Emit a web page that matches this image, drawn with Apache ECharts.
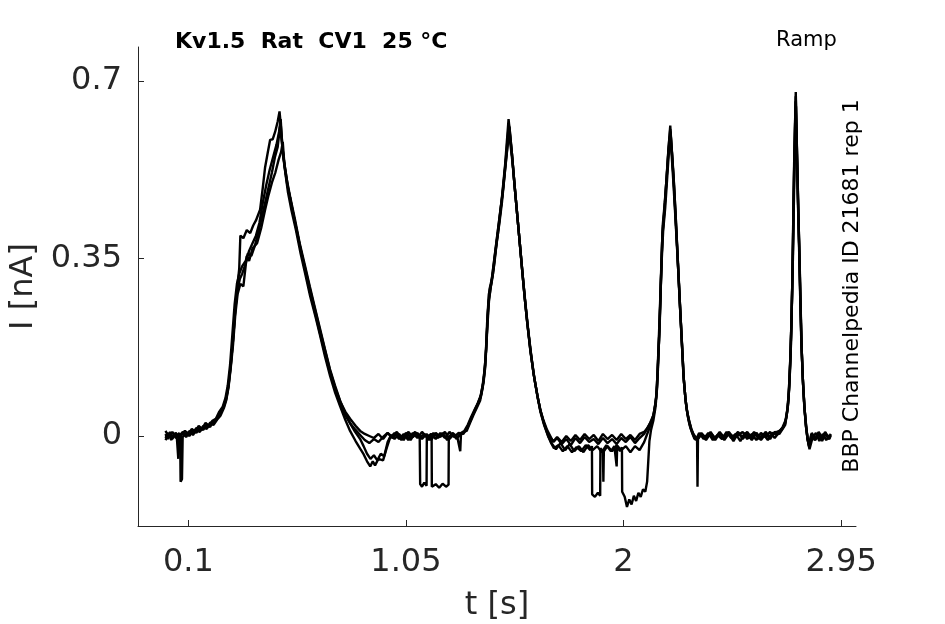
<!DOCTYPE html>
<html>
<head>
<meta charset="utf-8">
<script src="https://cdn.jsdelivr.net/npm/echarts@6/dist/echarts.min.js"></script>
<style>html,body{margin:0;padding:0;background:#fff}#c{width:945px;height:624px}</style>
</head>
<body>
<div id="c"></div>
<script>
const titleText = 'Kv1.5  Rat  CV1  25 °C';
const protocolText = 'Ramp';
const sideText = 'BBP Channelpedia ID 21681 rep 1';
const xTicks = [0.1, 1.05, 2, 2.95];
const yTicks = [0, 0.35, 0.7];
const xName = 't [s]';
const yName = 'I [nA]';

const traceA = [[0.00,0.004],[0.01,-0.006],[0.02,0.008],[0.03,-0.002],[0.045,0.006],[0.055,-0.004],[0.064,0.0],[0.066,-0.09],[0.072,-0.085],[0.075,-0.002],[0.09,0.006],[0.105,0.0],[0.12,0.012],[0.135,0.006],[0.15,0.016],[0.165,0.012],[0.18,0.022],[0.195,0.018],[0.21,0.03],[0.225,0.034],[0.24,0.045],[0.255,0.06],[0.265,0.075],[0.275,0.1],[0.285,0.14],[0.295,0.19],[0.305,0.25],[0.315,0.3],[0.322,0.33],[0.327,0.395],[0.34,0.39],[0.355,0.406],[0.37,0.4],[0.383,0.415],[0.395,0.425],[0.413,0.446],[0.425,0.49],[0.435,0.53],[0.447,0.56],[0.457,0.584],[0.468,0.585],[0.479,0.6],[0.49,0.62],[0.498,0.64],[0.506,0.6],[0.514,0.55],[0.53,0.5],[0.544,0.47],[0.566,0.42],[0.588,0.372],[0.61,0.33],[0.632,0.288],[0.655,0.245],[0.675,0.208],[0.697,0.168],[0.719,0.128],[0.741,0.095],[0.763,0.068],[0.785,0.048],[0.806,0.034],[0.83,0.02],[0.85,0.01],[0.87,0.004],[0.89,0.0],[0.91,-0.004],[0.93,0.004],[0.95,-0.006],[0.97,0.006],[0.99,-0.002],[1.01,0.008],[1.03,-0.004],[1.05,0.002],[1.07,-0.008],[1.09,0.006],[1.11,-0.002],[1.112,-0.095],[1.12,-0.1],[1.13,-0.092],[1.14,-0.098],[1.141,-0.004],[1.16,0.004],[1.18,-0.006],[1.2,0.006],[1.22,-0.004],[1.24,0.008],[1.26,-0.002],[1.28,0.006],[1.3,0.004],[1.315,0.014],[1.33,0.03],[1.345,0.045],[1.36,0.06],[1.374,0.075],[1.385,0.1],[1.396,0.14],[1.403,0.2],[1.41,0.26],[1.425,0.31],[1.436,0.35],[1.447,0.39],[1.458,0.43],[1.469,0.47],[1.483,0.535],[1.498,0.625],[1.512,0.56],[1.523,0.5],[1.534,0.446],[1.545,0.39],[1.556,0.333],[1.567,0.28],[1.578,0.23],[1.592,0.175],[1.607,0.124],[1.622,0.085],[1.636,0.052],[1.651,0.03],[1.666,0.012],[1.68,0.0],[1.694,-0.012],[1.71,-0.004],[1.73,-0.016],[1.75,-0.006],[1.77,-0.018],[1.79,-0.004],[1.81,-0.014],[1.83,-0.002],[1.85,-0.012],[1.87,-0.006],[1.89,-0.016],[1.91,-0.004],[1.93,-0.014],[1.95,-0.006],[1.97,-0.016],[1.99,-0.004],[2.01,-0.012],[2.03,-0.002],[2.05,-0.014],[2.07,-0.004],[2.09,0.004],[2.1,0.012],[2.115,0.025],[2.13,0.04],[2.14,0.065],[2.145,0.09],[2.15,0.14],[2.155,0.19],[2.16,0.26],[2.165,0.33],[2.171,0.415],[2.18,0.46],[2.189,0.515],[2.197,0.57],[2.204,0.612],[2.211,0.56],[2.218,0.51],[2.226,0.44],[2.233,0.38],[2.24,0.315],[2.247,0.25],[2.255,0.18],[2.262,0.118],[2.27,0.075],[2.277,0.05],[2.284,0.035],[2.295,0.015],[2.305,0.004],[2.32,-0.006],[2.34,0.006],[2.36,-0.004],[2.38,0.008],[2.40,-0.006],[2.42,0.004],[2.44,-0.008],[2.46,0.006],[2.48,-0.002],[2.50,0.008],[2.52,-0.006],[2.54,0.004],[2.56,-0.008],[2.58,0.006],[2.60,-0.004],[2.62,0.008],[2.64,-0.002],[2.66,0.006],[2.68,0.01],[2.695,0.016],[2.706,0.025],[2.714,0.045],[2.72,0.07],[2.726,0.12],[2.731,0.18],[2.736,0.28],[2.739,0.37],[2.745,0.54],[2.752,0.678],[2.758,0.54],[2.763,0.44],[2.767,0.37],[2.772,0.27],[2.777,0.18],[2.783,0.11],[2.79,0.055],[2.796,0.02],[2.803,-0.004],[2.81,-0.02],[2.82,0.004],[2.835,-0.008],[2.85,0.006],[2.865,-0.006],[2.88,0.008],[2.895,-0.004],[2.905,0.004]];

const traceB = [[0.0,-0.004],[0.012,0.006],[0.025,-0.008],[0.038,0.004],[0.05,-0.006],[0.056,-0.045],[0.06,-0.004],[0.075,0.006],[0.09,-0.002],[0.105,0.008],[0.12,0.002],[0.135,0.012],[0.15,0.008],[0.165,0.018],[0.18,0.014],[0.195,0.024],[0.21,0.022],[0.225,0.032],[0.24,0.04],[0.255,0.055],[0.265,0.07],[0.275,0.095],[0.285,0.135],[0.295,0.18],[0.305,0.24],[0.315,0.28],[0.327,0.3],[0.34,0.295],[0.355,0.355],[0.365,0.345],[0.38,0.37],[0.4,0.38],[0.418,0.41],[0.435,0.446],[0.45,0.475],[0.465,0.5],[0.48,0.52],[0.494,0.545],[0.505,0.56],[0.512,0.58],[0.52,0.53],[0.535,0.48],[0.55,0.445],[0.57,0.405],[0.59,0.36],[0.61,0.32],[0.632,0.275],[0.655,0.235],[0.675,0.198],[0.697,0.156],[0.719,0.118],[0.741,0.085],[0.763,0.058],[0.785,0.032],[0.806,0.01],[0.83,-0.01],[0.85,-0.025],[0.865,-0.036],[0.88,-0.05],[0.894,-0.06],[0.905,-0.05],[0.915,-0.058],[0.93,-0.045],[0.95,-0.048],[0.965,-0.025],[0.98,-0.004],[1.0,0.006],[1.02,-0.006],[1.04,0.004],[1.06,-0.008],[1.08,0.006],[1.1,-0.004],[1.12,0.008],[1.14,-0.002],[1.162,0.004],[1.163,-0.1],[1.18,-0.095],[1.195,-0.102],[1.21,-0.094],[1.225,-0.1],[1.236,-0.096],[1.237,-0.002],[1.255,0.006],[1.27,-0.006],[1.287,0.002],[1.3,0.008],[1.315,0.01],[1.33,0.026],[1.345,0.042],[1.36,0.056],[1.374,0.07],[1.385,0.095],[1.396,0.135],[1.405,0.23],[1.412,0.28],[1.425,0.305],[1.436,0.34],[1.447,0.385],[1.458,0.42],[1.469,0.46],[1.483,0.525],[1.5,0.6],[1.515,0.54],[1.525,0.49],[1.536,0.435],[1.547,0.38],[1.558,0.325],[1.569,0.27],[1.58,0.222],[1.594,0.165],[1.609,0.118],[1.624,0.078],[1.638,0.046],[1.653,0.022],[1.668,0.004],[1.682,-0.012],[1.696,-0.024],[1.715,-0.018],[1.735,-0.03],[1.755,-0.02],[1.775,-0.032],[1.795,-0.022],[1.815,-0.03],[1.835,-0.018],[1.855,-0.028],[1.862,-0.02],[1.863,-0.115],[1.875,-0.12],[1.888,-0.112],[1.898,-0.118],[1.899,-0.024],[1.91,-0.03],[1.912,-0.09],[1.914,-0.03],[1.93,-0.02],[1.95,-0.03],[1.97,-0.018],[1.99,-0.028],[2.01,-0.02],[2.03,-0.032],[2.05,-0.02],[2.07,-0.028],[2.09,-0.012],[2.1,0.0],[2.115,0.018],[2.128,0.035],[2.138,0.06],[2.145,0.085],[2.15,0.13],[2.156,0.2],[2.161,0.27],[2.166,0.34],[2.173,0.405],[2.182,0.45],[2.19,0.505],[2.198,0.56],[2.205,0.6],[2.213,0.55],[2.22,0.5],[2.228,0.43],[2.235,0.365],[2.242,0.3],[2.249,0.235],[2.257,0.165],[2.264,0.105],[2.272,0.065],[2.28,0.04],[2.288,0.022],[2.298,0.008],[2.31,-0.006],[2.322,-0.002],[2.33,0.006],[2.35,-0.006],[2.37,0.006],[2.39,-0.008],[2.41,0.002],[2.43,-0.006],[2.45,0.008],[2.47,-0.004],[2.49,0.004],[2.51,-0.01],[2.53,0.006],[2.55,-0.004],[2.57,0.008],[2.59,-0.006],[2.61,0.004],[2.63,-0.008],[2.65,0.006],[2.67,0.002],[2.69,0.012],[2.7,0.02],[2.71,0.035],[2.718,0.06],[2.724,0.1],[2.73,0.17],[2.735,0.26],[2.74,0.36],[2.746,0.52],[2.753,0.65],[2.759,0.53],[2.764,0.43],[2.768,0.36],[2.773,0.26],[2.778,0.17],[2.784,0.1],[2.791,0.05],[2.798,0.015],[2.805,-0.01],[2.812,-0.026],[2.825,-0.004],[2.84,0.006],[2.855,-0.01],[2.87,0.004],[2.885,-0.008],[2.9,0.002]];

const traceC = [[0.0,0.01],[0.015,-0.002],[0.03,0.008],[0.045,-0.004],[0.06,0.006],[0.068,-0.02],[0.07,0.004],[0.085,0.01],[0.1,0.004],[0.115,0.014],[0.13,0.008],[0.145,0.02],[0.16,0.014],[0.175,0.026],[0.19,0.02],[0.205,0.03],[0.22,0.034],[0.235,0.048],[0.25,0.058],[0.262,0.075],[0.272,0.1],[0.282,0.14],[0.292,0.2],[0.302,0.26],[0.312,0.3],[0.322,0.32],[0.335,0.335],[0.35,0.345],[0.36,0.36],[0.375,0.355],[0.39,0.375],[0.405,0.4],[0.42,0.43],[0.435,0.46],[0.45,0.49],[0.465,0.52],[0.478,0.55],[0.49,0.57],[0.5,0.61],[0.508,0.58],[0.518,0.54],[0.53,0.505],[0.545,0.47],[0.565,0.428],[0.586,0.38],[0.608,0.338],[0.63,0.295],[0.652,0.254],[0.674,0.213],[0.696,0.172],[0.718,0.132],[0.74,0.1],[0.762,0.07],[0.784,0.045],[0.806,0.025],[0.828,0.008],[0.85,-0.006],[0.865,-0.02],[0.88,-0.035],[0.895,-0.045],[0.91,-0.038],[0.925,-0.048],[0.94,-0.035],[0.955,-0.04],[0.97,-0.012],[0.985,0.002],[1.0,-0.006],[1.02,0.004],[1.04,-0.008],[1.06,0.008],[1.08,-0.002],[1.1,0.006],[1.12,-0.006],[1.14,0.004],[1.16,-0.008],[1.18,0.006],[1.2,-0.002],[1.22,0.008],[1.24,-0.006],[1.26,0.004],[1.275,-0.004],[1.287,-0.03],[1.29,0.002],[1.305,0.008],[1.32,0.018],[1.335,0.034],[1.35,0.05],[1.365,0.064],[1.378,0.08],[1.39,0.11],[1.4,0.17],[1.407,0.24],[1.415,0.29],[1.43,0.32],[1.44,0.36],[1.452,0.4],[1.463,0.445],[1.475,0.49],[1.488,0.55],[1.502,0.61],[1.514,0.55],[1.527,0.48],[1.538,0.425],[1.55,0.365],[1.561,0.31],[1.572,0.26],[1.584,0.208],[1.598,0.155],[1.612,0.11],[1.627,0.072],[1.642,0.042],[1.657,0.018],[1.672,-0.002],[1.688,-0.016],[1.705,-0.026],[1.725,-0.014],[1.745,-0.028],[1.765,-0.016],[1.785,-0.03],[1.805,-0.02],[1.825,-0.032],[1.845,-0.018],[1.865,-0.028],[1.885,-0.02],[1.905,-0.032],[1.925,-0.018],[1.945,-0.03],[1.96,-0.02],[1.97,-0.06],[1.972,-0.02],[1.985,-0.03],[1.993,-0.022],[1.994,-0.11],[2.005,-0.12],[2.015,-0.14],[2.025,-0.125],[2.035,-0.135],[2.045,-0.118],[2.055,-0.128],[2.065,-0.112],[2.075,-0.12],[2.085,-0.105],[2.095,-0.11],[2.103,-0.09],[2.108,-0.05],[2.113,-0.01],[2.12,0.012],[2.13,0.03],[2.14,0.058],[2.147,0.1],[2.152,0.16],[2.158,0.22],[2.163,0.3],[2.169,0.39],[2.178,0.44],[2.187,0.5],[2.196,0.56],[2.203,0.59],[2.21,0.555],[2.217,0.505],[2.224,0.45],[2.232,0.385],[2.239,0.325],[2.246,0.26],[2.254,0.19],[2.261,0.125],[2.269,0.08],[2.276,0.052],[2.284,0.032],[2.294,0.014],[2.304,0.002],[2.315,-0.008],[2.321,-0.004],[2.323,-0.1],[2.325,-0.006],[2.34,0.004],[2.36,-0.008],[2.38,0.006],[2.4,-0.004],[2.42,0.008],[2.44,-0.006],[2.46,0.004],[2.48,-0.01],[2.5,0.006],[2.52,-0.002],[2.54,0.008],[2.56,-0.004],[2.58,0.006],[2.6,-0.008],[2.62,0.004],[2.64,-0.006],[2.66,0.008],[2.68,0.004],[2.695,0.014],[2.706,0.022],[2.715,0.05],[2.721,0.08],[2.727,0.14],[2.733,0.22],[2.738,0.33],[2.744,0.5],[2.751,0.66],[2.757,0.55],[2.762,0.45],[2.766,0.38],[2.771,0.28],[2.776,0.19],[2.782,0.12],[2.789,0.06],[2.797,0.022],[2.804,-0.006],[2.81,-0.016],[2.822,0.006],[2.838,-0.006],[2.852,0.008],[2.868,-0.004],[2.882,0.006],[2.898,-0.006],[2.905,0.002]];

const traceD = [[0.0,-0.008],[0.015,0.004],[0.03,-0.006],[0.045,0.006],[0.06,-0.002],[0.075,0.008],[0.09,0.002],[0.105,0.01],[0.12,0.006],[0.135,0.016],[0.15,0.01],[0.165,0.02],[0.18,0.016],[0.195,0.026],[0.21,0.026],[0.225,0.036],[0.24,0.044],[0.255,0.058],[0.265,0.072],[0.275,0.098],[0.285,0.138],[0.295,0.19],[0.305,0.25],[0.315,0.29],[0.325,0.31],[0.335,0.32],[0.35,0.34],[0.365,0.365],[0.38,0.38],[0.395,0.395],[0.41,0.42],[0.425,0.46],[0.44,0.495],[0.455,0.525],[0.47,0.55],[0.485,0.575],[0.496,0.6],[0.503,0.625],[0.51,0.57],[0.52,0.535],[0.535,0.49],[0.55,0.455],[0.57,0.412],[0.59,0.368],[0.61,0.326],[0.632,0.282],[0.654,0.241],[0.676,0.2],[0.698,0.16],[0.72,0.122],[0.742,0.09],[0.764,0.062],[0.786,0.04],[0.808,0.024],[0.83,0.012],[0.85,0.002],[0.87,-0.008],[0.89,-0.014],[0.91,-0.006],[0.93,-0.012],[0.95,-0.002],[0.97,0.006],[0.99,-0.004],[1.01,0.004],[1.03,-0.008],[1.05,0.006],[1.07,-0.002],[1.09,0.008],[1.11,-0.004],[1.13,0.004],[1.15,-0.008],[1.17,0.006],[1.19,-0.004],[1.21,0.006],[1.23,-0.008],[1.25,0.004],[1.27,-0.004],[1.29,0.006],[1.305,0.01],[1.32,0.022],[1.335,0.038],[1.35,0.052],[1.365,0.066],[1.378,0.082],[1.389,0.11],[1.399,0.16],[1.406,0.22],[1.413,0.27],[1.427,0.315],[1.438,0.355],[1.449,0.395],[1.46,0.435],[1.472,0.48],[1.485,0.54],[1.499,0.615],[1.513,0.555],[1.524,0.495],[1.535,0.44],[1.546,0.385],[1.557,0.33],[1.568,0.275],[1.579,0.226],[1.593,0.17],[1.608,0.12],[1.623,0.082],[1.637,0.05],[1.652,0.026],[1.667,0.008],[1.681,-0.004],[1.695,-0.01],[1.71,-0.002],[1.73,-0.012],[1.75,0.0],[1.77,-0.01],[1.79,0.002],[1.81,-0.008],[1.83,0.004],[1.85,-0.006],[1.87,0.002],[1.89,-0.01],[1.91,0.004],[1.93,-0.006],[1.95,0.002],[1.97,-0.008],[1.99,0.004],[2.01,-0.006],[2.03,0.002],[2.05,-0.008],[2.07,0.004],[2.09,0.008],[2.105,0.016],[2.12,0.028],[2.133,0.045],[2.142,0.075],[2.148,0.12],[2.153,0.18],[2.158,0.24],[2.163,0.31],[2.17,0.4],[2.179,0.45],[2.188,0.51],[2.196,0.565],[2.204,0.605],[2.212,0.555],[2.219,0.505],[2.227,0.44],[2.234,0.375],[2.241,0.31],[2.248,0.245],[2.256,0.175],[2.263,0.112],[2.271,0.07],[2.279,0.045],[2.287,0.028],[2.297,0.012],[2.308,0.0],[2.32,-0.008],[2.34,0.004],[2.36,-0.006],[2.38,0.004],[2.4,-0.008],[2.42,0.006],[2.44,-0.002],[2.46,0.008],[2.48,-0.006],[2.5,0.002],[2.52,0.008],[2.54,-0.006],[2.56,0.004],[2.58,-0.008],[2.6,0.006],[2.62,-0.002],[2.64,0.008],[2.66,-0.004],[2.68,0.008],[2.695,0.018],[2.707,0.03],[2.716,0.055],[2.722,0.09],[2.728,0.15],[2.734,0.24],[2.739,0.35],[2.745,0.53],[2.752,0.67],[2.758,0.545],[2.763,0.445],[2.767,0.375],[2.772,0.275],[2.777,0.18],[2.783,0.112],[2.79,0.056],[2.797,0.018],[2.804,-0.008],[2.811,-0.022],[2.823,0.002],[2.837,-0.008],[2.852,0.004],[2.867,-0.01],[2.882,0.004],[2.897,-0.006],[2.904,0.0]];

const traces = [traceA, traceB, traceC, traceD];

const axisColor = '#262626';
const chart = echarts.init(document.getElementById('c'), null, {renderer: 'canvas'});
chart.setOption({
  animation: false,
  backgroundColor: '#ffffff',
  grid: {left: 138, right: 89, top: 47, bottom: 98, containLabel: false, outerBoundsMode: 'none'},
  xAxis: {
    type: 'value', min: -0.12, max: 3.015,
    name: xName, nameLocation: 'middle', nameGap: 64,
    nameTextStyle: {fontFamily: 'DejaVu Sans', fontSize: 32, color: axisColor},
    axisLine: {show: true, onZero: false, lineStyle: {color: axisColor, width: 1}},
    axisTick: {show: true, inside: true, length: 6, customValues: xTicks, lineStyle: {color: axisColor}},
    axisLabel: {customValues: xTicks, margin: 21, fontFamily: 'DejaVu Sans', fontSize: 32, color: axisColor,
      formatter: v => String(Math.round(v * 100) / 100)},
    splitLine: {show: false}
  },
  yAxis: {
    type: 'value', min: -0.1775, max: 0.767,
    name: yName, nameLocation: 'middle', nameGap: 84, nameRotate: 90,
    nameTextStyle: {fontFamily: 'DejaVu Sans', fontSize: 32, color: axisColor},
    axisLine: {show: true, onZero: false, lineStyle: {color: axisColor, width: 1}},
    axisTick: {show: true, inside: true, length: 6, customValues: yTicks, lineStyle: {color: axisColor}},
    axisLabel: {customValues: yTicks, margin: 16, fontFamily: 'DejaVu Sans', fontSize: 32, color: axisColor,
      formatter: v => String(Math.round(v * 100) / 100)},
    splitLine: {show: false}
  },
  series: traces.map(t => ({
    type: 'line', data: t, showSymbol: false, symbol: 'none',
    lineStyle: {color: '#000000', width: 2.4}, z: 3
  })),
  graphic: [
    {type: 'text', x: 175, y: 42, style: {text: titleText, fontFamily: 'DejaVu Sans', fontWeight: 'bold', fontSize: 22, fill: '#000', align: 'left', verticalAlign: 'middle'}},
    {type: 'text', x: 776, y: 41, style: {text: protocolText, fontFamily: 'DejaVu Sans', fontSize: 21, fill: '#000', align: 'left', verticalAlign: 'middle'}},
    {type: 'text', x: 852, y: 286, rotation: Math.PI / 2,
      style: {text: sideText, fontFamily: 'DejaVu Sans', fontSize: 22, fill: '#000', align: 'center', verticalAlign: 'middle'}}
  ]
});
</script>
</body>
</html>
